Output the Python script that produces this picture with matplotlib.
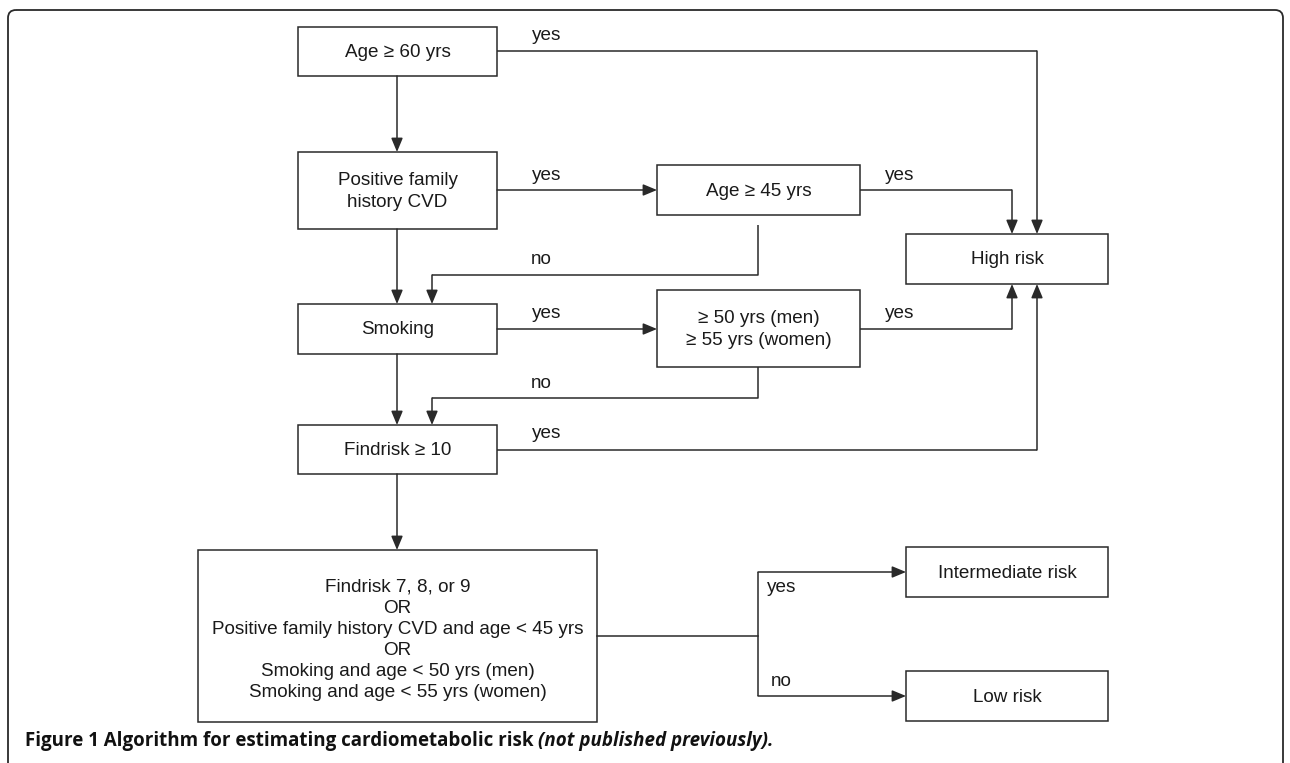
import matplotlib.pyplot as plt
from matplotlib.patches import Rectangle, FancyBboxPatch

# box labels
labels = ["Age \u2265 60 yrs",
          "Positive family\nhistory CVD",
          "Smoking",
          "Findrisk \u2265 10",
          "Findrisk 7, 8, or 9\nOR\nPositive family history CVD and age < 45 yrs\nOR\nSmoking and age < 50 yrs (men)\nSmoking and age < 55 yrs (women)",
          "Age \u2265 45 yrs",
          "\u2265 50 yrs (men)\n\u2265 55 yrs (women)",
          "High risk",
          "Intermediate risk",
          "Low risk"]
branch_yes = "yes"
branch_no = "no"
caption_bold = "Figure 1 Algorithm for estimating cardiometabolic risk "
caption_italic = "(not published previously)."

# layout (pixels): x0, y0, x1, y1
boxes = [(298, 27, 497, 76),
         (298, 152, 497, 229),
         (298, 304, 497, 354),
         (298, 425, 497, 474),
         (198, 550, 597, 722),
         (657, 165, 860, 215),
         (657, 290, 860, 367),
         (906, 234, 1108, 284),
         (906, 547, 1108, 597),
         (906, 671, 1108, 721)]

col = "#2a2a2a"
lw = 1.1
fnt = ["Liberation Sans", "DejaVu Sans"]
fs = 13.6

fig = plt.figure(figsize=(12.9, 7.63), dpi=100)
ax = fig.add_axes([0, 0, 1, 1])
ax.set_xlim(0, 1290)
ax.set_ylim(763, 0)
ax.axis("off")

# outer frame
ax.add_patch(FancyBboxPatch((8, 10), 1275, 780, boxstyle="round,pad=0,rounding_size=8",
                            fill=False, ec=col, lw=1.3, clip_on=True))

for (x0, y0, x1, y1), lab in zip(boxes, labels):
    ax.add_patch(Rectangle((x0, y0), x1 - x0, y1 - y0, fill=False, ec=col, lw=lw))
    dy = 4 if lab.count("\n") > 2 else 1
    ax.text((x0 + x1) / 2, (y0 + y1) / 2 + dy, lab, ha="center", va="center",
            fontsize=fs, family=fnt, color="#1a1a1a", linespacing=1.32)


def line(xs, ys, arrow=True):
    if arrow:
        ax.plot(xs[:-1], ys[:-1], color=col, lw=lw, solid_capstyle="butt")
        ax.annotate("", xy=(xs[-1], ys[-1]), xytext=(xs[-2], ys[-2]),
                    arrowprops=dict(arrowstyle="-|>,head_length=0.6,head_width=0.25",
                                    color=col, lw=lw, shrinkA=0, shrinkB=0,
                                    mutation_scale=14))
    else:
        ax.plot(xs, ys, color=col, lw=lw)


def label(x, y, s):
    ax.text(x, y, s, ha="left", va="center", fontsize=fs, family=fnt, color="#1a1a1a")


# main column
line([397, 397], [76, 152])
line([397, 397], [229, 304])
line([397, 397], [354, 425])
line([397, 397], [474, 550])

# age >= 60 -> high risk
line([497, 1037, 1037], [51, 51, 234])
label(532, 36, branch_yes)

# family history -> age >= 45
line([497, 657], [190, 190])
label(532, 175, branch_yes)
line([860, 1012, 1012], [190, 190, 234])
label(885, 175, branch_yes)
line([758, 758, 432, 432], [225, 275, 275, 304])
label(531, 260, branch_no)

# smoking -> age 50/55
line([497, 657], [329, 329])
label(532, 314, branch_yes)
line([860, 1012, 1012], [329, 329, 284])
label(885, 314, branch_yes)
line([758, 758, 432, 432], [367, 398, 398, 425])
label(531, 384, branch_no)

# findrisk >= 10 -> high risk
line([497, 1037, 1037], [450, 450, 284])
label(532, 433, branch_yes)

# big box -> intermediate / low
line([597, 758], [636, 636], arrow=False)
line([758, 758, 906], [636, 572, 572])
line([758, 758, 906], [636, 696, 696])
label(767, 587, branch_yes)
label(771, 682, branch_no)

# caption
t = ax.text(25, 741, caption_bold, ha="left", va="center", fontsize=13.5,
            fontweight="bold", family=["Open Sans", "DejaVu Sans"], color="#111111")
ax.annotate(caption_italic, xy=(1, 0.5), xycoords=t, ha="left", va="center",
            fontsize=13.5, fontweight="bold", fontstyle="italic",
            family=["Open Sans", "DejaVu Sans"], color="#111111")

fig.savefig("out.png", dpi=100)
